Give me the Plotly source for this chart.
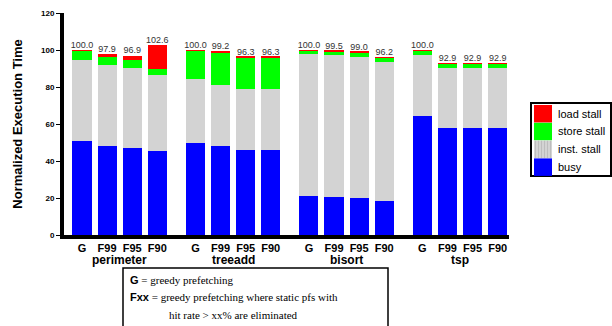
import plotly.graph_objects as go

benchmarks = ["perimeter", "treeadd", "bisort", "tsp"]
variants = ["G", "F99", "F95", "F90"]

# cumulative tops, per bar (benchmark-major order)
busy = [51.0, 48.1, 47.2, 45.6,
        49.9, 48.1, 46.1, 46.1,
        21.1, 20.4, 19.8, 18.4,
        64.3, 57.7, 57.7, 57.7]
inst_top = [94.6, 91.9, 90.1, 86.3,
            84.5, 81.1, 78.9, 78.9,
            97.8, 97.1, 96.4, 93.5,
            97.3, 90.1, 90.1, 90.1]
store_top = [99.5, 96.2, 94.4, 89.9,
             99.6, 98.9, 95.7, 95.7,
             99.8, 99.3, 98.8, 95.7,
             99.9, 92.8, 92.8, 92.8]
totals = [100.0, 97.9, 96.9, 102.6,
          100.0, 99.2, 96.3, 96.3,
          100.0, 99.5, 99.0, 96.2,
          100.0, 92.9, 92.9, 92.9]
yticks = [0, 20, 40, 60, 80, 100, 120]

inst = [round(t - b, 2) for t, b in zip(inst_top, busy)]
store = [round(s - t, 2) for s, t in zip(store_top, inst_top)]
load = [round(tot - s, 2) for tot, s in zip(totals, store_top)]

GROUP_STEP = 4.52
xpos = [g * GROUP_STEP + k for g in range(len(benchmarks)) for k in range(len(variants))]
ticktext = [f"<b>{v}</b>" for _ in benchmarks for v in variants]

W, H = 612, 326
L, R, T, B = 64, 103, 13, 91
pw, ph = W - L - R, H - T - B

def px_x(px):
    return (px - L) / pw

def px_y(py):
    return (H - B - py) / ph

fig = go.Figure()
series = [("busy", busy, "#0000FF"),
          ("inst. stall", inst, "#D3D3D3"),
          ("store stall", store, "#00FF00"),
          ("load stall", load, "#FF0000")]
for name, vals, col in series:
    fig.add_trace(go.Bar(x=xpos, y=vals, name=name, width=0.76, showlegend=False,
                         marker=dict(color=col, line=dict(width=0))))

fig.add_trace(go.Scatter(x=xpos, y=totals, mode="text",
                         text=[f"{t:.1f}" for t in totals],
                         textposition="top center",
                         textfont=dict(family="Arial", size=9, color="#333333"),
                         showlegend=False, hoverinfo="skip"))

fig.update_layout(
    width=W, height=H, barmode="stack",
    margin=dict(l=L, r=R, t=T, b=B, autoexpand=False),
    paper_bgcolor="white", plot_bgcolor="white",
    font=dict(family="Arial", color="black"),
    showlegend=False,
    xaxis=dict(range=[-0.717, 17.01], tickvals=xpos, ticktext=ticktext,
               showline=True, linecolor="black", linewidth=4,
               ticks="", showgrid=False, zeroline=False,
               tickfont=dict(size=11, family="Arial"),
               ticklabelstandoff=0),
    yaxis=dict(range=[0, 120], tickvals=yticks,
               ticktext=[f"<b>{v}</b>" for v in yticks],
               showline=True, linecolor="black", linewidth=4,
               ticks="outside", ticklen=4, tickwidth=1, tickcolor="black",
               showgrid=False, zeroline=False,
               tickfont=dict(size=8, family="Arial"),
               title=dict(text="<b>Normalized Execution Time</b>",
                          font=dict(size=13, family="Arial"), standoff=16)),
)

for g, name in enumerate(benchmarks):
    fig.add_annotation(x=g * GROUP_STEP + 1.5, y=px_y(260), yref="paper",
                       text=f"<b>{name}</b>", showarrow=False,
                       font=dict(size=12, family="Arial"), yanchor="middle")

# legend (drawn as a boxed key)
legend_items = [("load stall", "#FF0000"), ("store stall", "#00FF00"),
                ("inst. stall", "#D3D3D3"), ("busy", "#0000FF")]
lx0, ly0, lx1, ly1 = 531, 103, 611, 176
fig.add_shape(type="rect", xref="paper", yref="paper",
              x0=px_x(lx0), x1=px_x(lx1), y0=px_y(ly1), y1=px_y(ly0),
              line=dict(color="black", width=2), fillcolor="white")
for i, (name, col) in enumerate(legend_items):
    top = 105 + i * 17.8
    fig.add_shape(type="rect", xref="paper", yref="paper",
                  x0=px_x(534), x1=px_x(552), y0=px_y(top + 17.5), y1=px_y(top),
                  line=dict(width=0), fillcolor=col)
    if name == "inst. stall":
        for k in range(6):
            xx = 535.5 + k * 3
            fig.add_shape(type="line", xref="paper", yref="paper",
                          x0=px_x(xx), x1=px_x(xx), y0=px_y(top + 17.5), y1=px_y(top),
                          line=dict(color="#BDBDBD", width=1))
    fig.add_annotation(x=px_x(556), y=px_y(top + 8.5), xref="paper", yref="paper",
                       text=name, showarrow=False, xanchor="left", yanchor="middle",
                       font=dict(size=11, family="Arial", color="black"))

# explanation box
fig.add_shape(type="rect", xref="paper", yref="paper",
              x0=px_x(123), x1=px_x(388), y0=px_y(340), y1=px_y(268),
              line=dict(color="black", width=1.5), fillcolor="rgba(0,0,0,0)")
serif = "Times New Roman, Liberation Serif, serif"
lines = [
    (128, 280, '<span style="font-family:Arial"><b>G</b></span> = greedy prefetching'),
    (128, 297, '<span style="font-family:Arial"><b>Fxx</b></span> = greedy prefetching where static pfs with'),
    (167, 315, 'hit rate &gt; xx% are eliminated'),
]
for x0, y0, txt in lines:
    fig.add_annotation(x=px_x(x0), y=px_y(y0), xref="paper", yref="paper",
                       text=txt, showarrow=False, xanchor="left", yanchor="middle",
                       font=dict(size=11, family=serif, color="black"))

fig.write_html("out.html",
               config={"displayModeBar": False},
               post_script="document.body.style.margin='0';document.body.style.overflow='hidden';")
